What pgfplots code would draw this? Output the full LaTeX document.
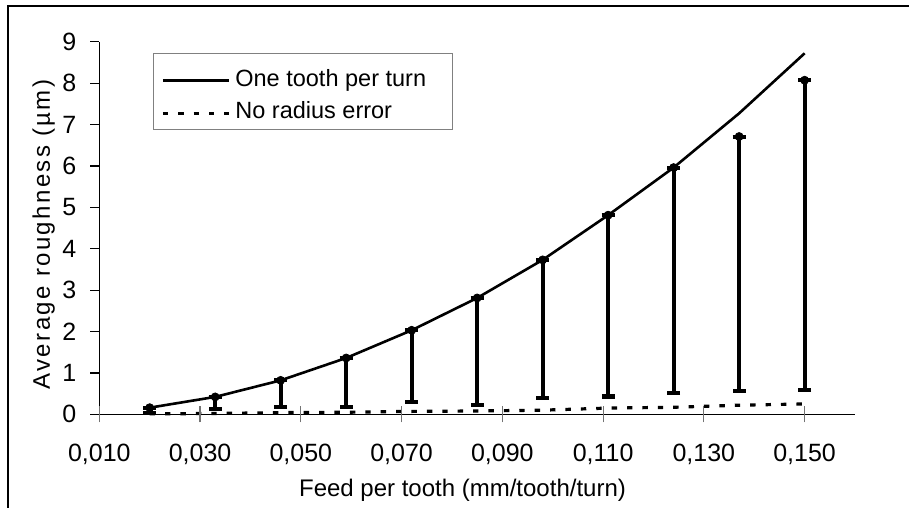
\documentclass[border=0pt]{standalone}
\usepackage{fontspec}
\setmainfont{Liberation Sans}
\newfontfamily\ylabfont[LetterSpace=10]{Liberation Sans}
\usepackage{pgfplots}
\pgfplotsset{compat=1.18}
\usepackage{pgfplotstable}

\pgfplotstableread{
x y
0.020 0.16
0.033 0.42
0.046 0.82
0.059 1.36
0.072 2.03
0.085 2.81
0.098 3.73
0.111 4.81
0.124 5.96
0.137 7.27
0.150 8.72
}\onetooth

\pgfplotstableread{
x y
0.020 0.01
0.033 0.02
0.046 0.04
0.059 0.05
0.072 0.07
0.085 0.08
0.098 0.10
0.111 0.15
0.124 0.17
0.137 0.22
0.150 0.25
}\noradius

\pgfplotstableread{
x top ep em
0.020 0.16 0 0.12
0.033 0.42 0 0.30
0.046 0.82 0 0.64
0.059 1.36 0 1.18
0.072 2.03 0 1.74
0.085 2.81 0 2.59
0.098 3.73 0 3.34
0.111 4.81 0 4.38
0.124 5.96 0 5.44
0.137 6.71 0 6.15
0.150 8.07 0 7.48
}\errbars

\begin{document}
\begin{tikzpicture}
\pgfplotsset{commonaxis/.style={
  scale only axis, width=377.85bp, height=186.3bp,
  at={(0bp,0bp)}, anchor=south west,
  xmin=0.01, xmax=0.16, ymin=0, ymax=9,
  axis x line*=bottom, axis y line*=left,
  clip=false,
  xtick={0.01,0.03,0.05,0.07,0.09,0.11,0.13,0.15},
}}
\begin{axis}[commonaxis,
  axis line style={line width=0.6bp, black},
  tick align=outside, major tick length=4.5bp,
  ytick={0,1,2,3,4,5,6,7,8,9},
  ytick style={line width=0.6bp, black},
  xtick style={draw=none},
  /pgf/number format/assume math mode=true,
  tick label style={font=\fontsize{12.5bp}{15bp}\selectfont},
  xticklabel style={inner sep=0pt, yshift=-10bp, /pgf/number format/.cd, fixed, fixed zerofill, precision=3, use comma},
  yticklabel style={inner sep=0pt, xshift=-6.8bp},
  xlabel={Feed per tooth (mm/tooth/turn)},
  every axis x label/.style={at={(axis description cs:0.4806,-0.22195)}, anchor=base, font=\fontsize{12bp}{14bp}\selectfont},
  ylabel={Average roughness (µm)},
  every axis y label/.style={at={(axis description cs:-0.06524,0.4826)}, rotate=90, anchor=base, font=\fontsize{12bp}{14bp}\ylabfont},
  legend style={at={(axis description cs:0.07066,0.96887)}, anchor=north west,
    draw=black!50, line width=0.5bp, inner xsep=4bp, inner ysep=3.75bp,
    row sep=2.3bp, column sep=2.5bp,
    font=\fontsize{11.75bp}{14bp}\selectfont,
    nodes={inner sep=0pt, text height=12.5bp, text depth=1.5bp}},
  legend cell align=left,
  legend image code/.code={\draw[#1] (0bp,-2.65bp) -- (33bp,-2.65bp);},
]
\addplot[black, line width=1.3bp, mark=none] table[x=x, y=y] {\onetooth};
\addlegendentry{\makebox[104.5bp][l]{One tooth per turn}}
\addplot[black, line width=1.6bp, mark=none, dash pattern=on 2.7bp off 5bp] table[x=x, y=y] {\noradius};
\addlegendentry{\makebox[104.5bp][l]{No radius error}}
\addplot[black, only marks, mark=none, forget plot,
  error bars/.cd, y dir=both, y explicit,
  error bar style={line width=2bp, black},
  error mark options={rotate=90, line width=2bp, mark size=3.25bp, black}]
  table[x=x, y=top, y error plus=ep, y error minus=em] {\errbars};
\end{axis}
\begin{axis}[commonaxis,
  axis line style={draw=none},
  tick align=center, major tick length=8bp,
  ytick=\empty, xticklabels={,,,,,,,},
  xtick style={line width=0.6bp, black!55},
]
\end{axis}
\draw[line width=0.8bp, black] (-45.5bp,-60bp) -- (-45.5bp,204.6bp);
\draw[line width=0.8bp, black] (-46bp,204.2bp) -- (420bp,204.2bp);
\pgfresetboundingbox
\path[use as bounding box] (-49.65bp,-46.85bp) rectangle (404.85bp,207.15bp);
\end{tikzpicture}
\end{document}
